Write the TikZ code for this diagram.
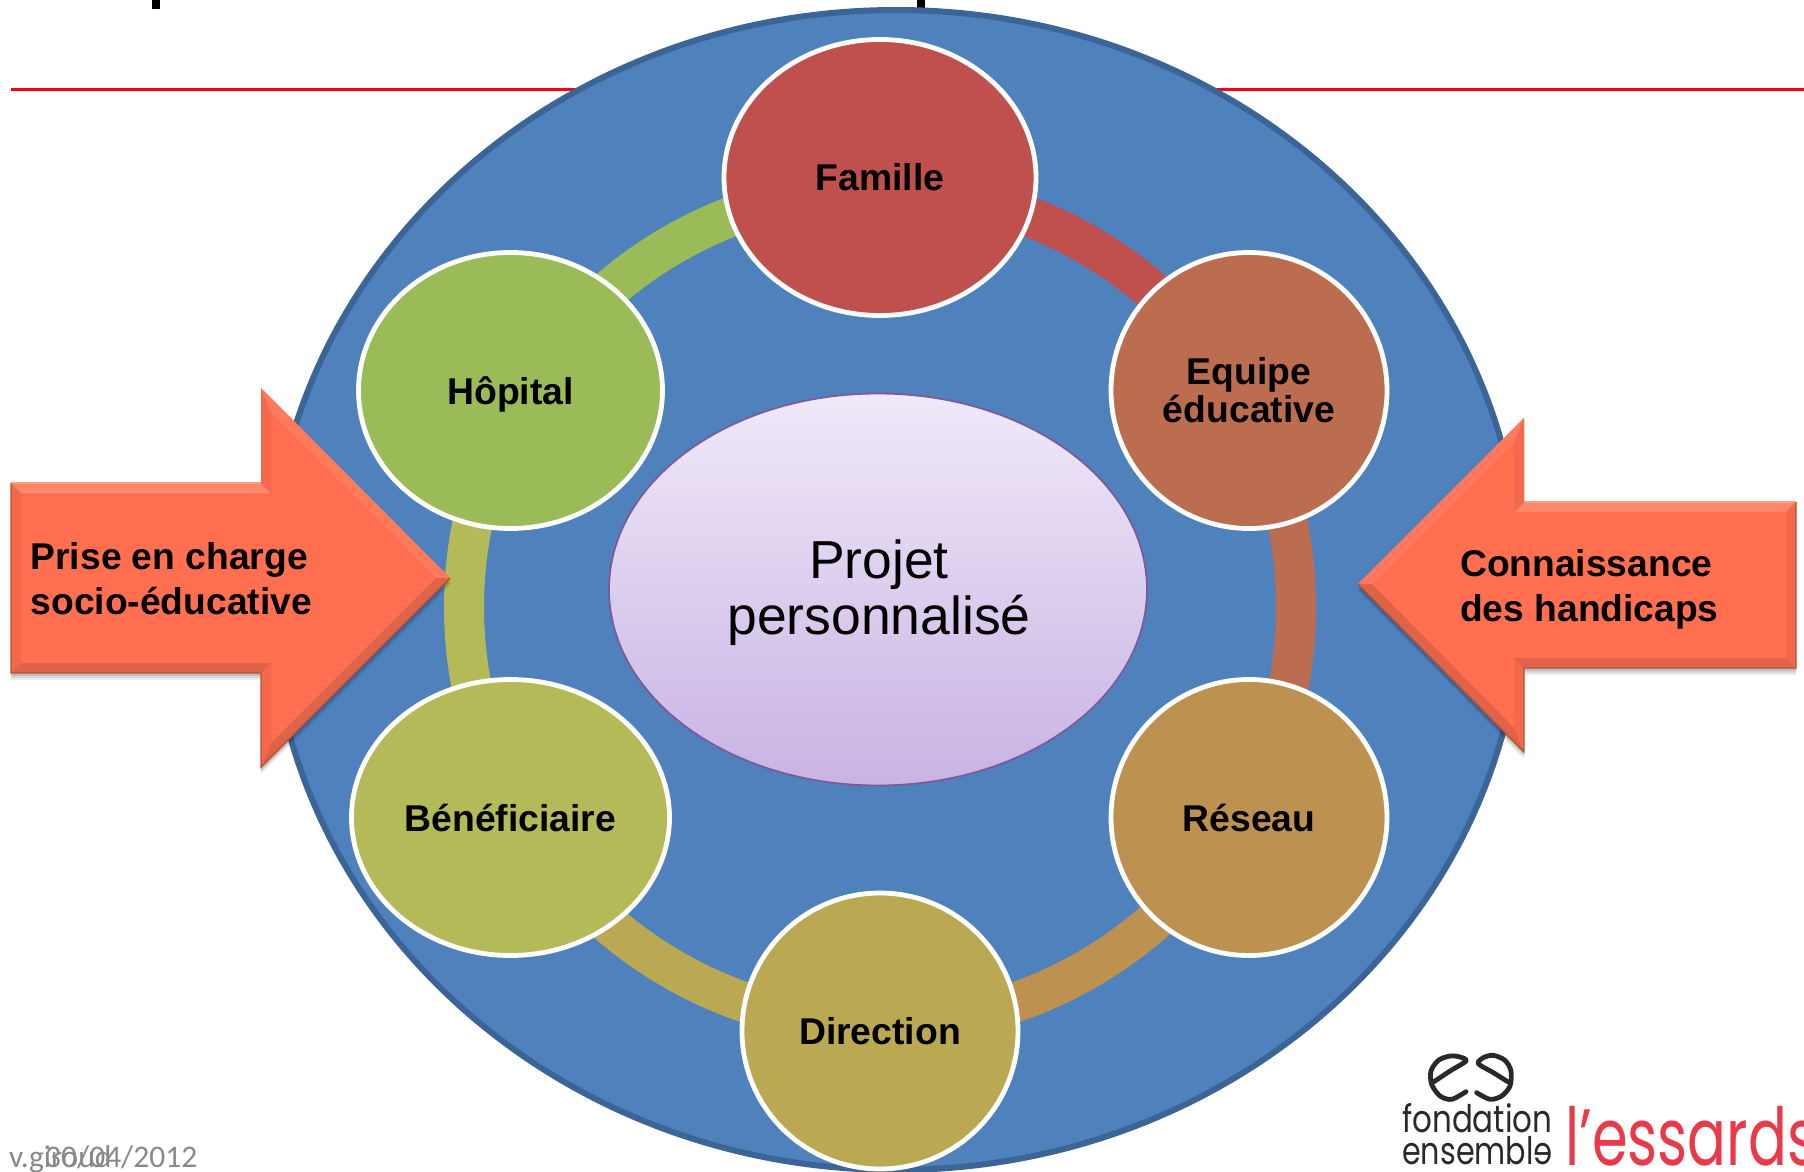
\documentclass[tikz,border=0pt]{standalone}
\usepackage{fontspec}
\setmainfont{Liberation Sans}
\newfontfamily\calfont{Carlito}
\newfontfamily\logofont{Poppins}
\usetikzlibrary{shapes.geometric,backgrounds}
\definecolor{bigfill}{HTML}{4F81BD}
\definecolor{bigline}{HTML}{3B6497}
\definecolor{cfam}{HTML}{C0504D}
\definecolor{ceq}{HTML}{BD6D4F}
\definecolor{cres}{HTML}{BD9150}
\definecolor{cdir}{HTML}{BBA852}
\definecolor{cben}{HTML}{B5BA58}
\definecolor{chop}{HTML}{9BBB59}
\definecolor{arrowbase}{HTML}{FF6F50}
\definecolor{bevlight}{HTML}{FF886C}
\definecolor{bevlightb}{HTML}{FF7A5C}
\definecolor{bevside}{HTML}{F4694B}
\definecolor{bevdark}{HTML}{E06348}
\definecolor{edgedark}{HTML}{B3533B}
\definecolor{edgelight}{HTML}{FF9D85}
\definecolor{redrule}{HTML}{FF0000}
\definecolor{logored}{HTML}{E93A4C}
\definecolor{logoblack}{HTML}{2B282A}
\definecolor{footgray}{HTML}{898989}
\definecolor{ptop}{HTML}{F0E9F9}
\definecolor{pbot}{HTML}{C8B3E3}
\definecolor{pline}{HTML}{7A5C9C}
\tikzset{
  member/.style={ellipse,draw=white,line width=4.8pt,inner sep=0pt,
    font=\fontsize{37.3}{38}\selectfont\bfseries,align=center,text=black},
  ringarc/.style={line width=40pt,line cap=butt},
  arrowtext/.style={font=\fontsize{37.2}{45}\selectfont\bfseries,align=left,anchor=west,inner sep=0pt,text=black},
  shadowpoly/.style={fill=black,draw=none},
}
\begin{document}
\begin{tikzpicture}[x=1pt,y=-1pt]
\useasboundingbox (0,0) rectangle (1804,1172);
% members
\node[member,fill=cfam,minimum width=312pt,minimum height=276pt] (fam) at (880,177.5) {Famille};
\node[member,fill=ceq,minimum width=276pt,minimum height=276pt] (equ) at (1249,390.5) {Equipe\\éducative};
\node[member,fill=cres,minimum width=276pt,minimum height=276pt] (res) at (1249,817.5) {Réseau};
\node[member,fill=cdir,minimum width=276pt,minimum height=276pt] (dir) at (880,1031) {Direction};
\node[member,fill=cben,minimum width=318pt,minimum height=276pt] (ben) at (510.5,817.5) {Bénéficiaire};
\node[member,fill=chop,minimum width=304pt,minimum height=276pt] (hop) at (510.5,390.5) {\smash{Hôpital}\rule{0pt}{27pt}};
% centre
\node[ellipse,draw=pline,line width=1.8pt,top color=ptop,bottom color=pbot,inner sep=0pt,
  minimum width=538pt,minimum height=392pt] (centre) at (878,589.5) {};
\node[font=\fontsize{53.5}{56}\selectfont,align=center,inner sep=0pt] (centretext) at (879,592.5) {Projet\\personnalisé};
\begin{scope}[on background layer]
  \fill (151.5,0) rectangle (160,9.5);
  \fill (916.5,0) rectangle (925,9);
  \coordinate (ruleAa) at (11,89.5);
  \coordinate (ruleAb) at (700,89.5);
  \coordinate (ruleBa) at (1100,89.5);
  \coordinate (ruleBb) at (1804,89.5);
  \draw[redrule,line width=3.8pt] (ruleAa) -- (ruleAb);
  \draw[redrule,line width=3.8pt] (ruleBa) -- (ruleBb);
  \node[ellipse,fill=bigfill,draw=bigline,line width=6pt,inner sep=0pt,
    minimum width=1252pt,minimum height=1160pt] (big) at (896,590) {};
  \coordinate (ringc) at (880,607);
  \draw[ringarc,cfam] (ringc) ++(90:416pt and 418pt) arc[start angle=90,end angle=29,x radius=416pt,y radius=418pt];
  \draw[ringarc,ceq] (ringc) ++(29:416pt and 418pt) arc[start angle=29,end angle=-29,x radius=416pt,y radius=418pt];
  \draw[ringarc,cres] (ringc) ++(-29:416pt and 418pt) arc[start angle=-29,end angle=-90,x radius=416pt,y radius=418pt];
  \draw[ringarc,cdir] (ringc) ++(-90:416pt and 418pt) arc[start angle=-90,end angle=-151,x radius=416pt,y radius=418pt];
  \draw[ringarc,cben] (ringc) ++(-151:416pt and 418pt) arc[start angle=-151,end angle=-209,x radius=416pt,y radius=418pt];
  \draw[ringarc,chop] (ringc) ++(151:416pt and 418pt) arc[start angle=151,end angle=90,x radius=416pt,y radius=418pt];
\end{scope}
% arrow shadows
\foreach \o/\a in {7/.07,5/.09,3/.12}{
  \fill[shadowpoly,opacity=\a] (11,483+\o) -- (261,483+\o) -- (261,388+\o) -- (450,578+\o) -- (261,767+\o) -- (261,673+\o) -- (11,673+\o) -- cycle;
  \fill[shadowpoly,opacity=\a] (1796,502+\o) -- (1524,502+\o) -- (1524,418+\o) -- (1358,584+\o) -- (1524,752+\o) -- (1524,668+\o) -- (1796,668+\o) -- cycle;
}
% left arrow
\fill[arrowbase] (11,483) -- (261,483) -- (261,388) -- (450,578) -- (261,767) -- (261,673) -- (11,673) -- cycle;
\fill[bevlight] (11,483) -- (261,483) -- (271,493) -- (21,493) -- cycle;
\fill[bevside] (261,483) -- (261,388) -- (271,412) -- (271,493) -- cycle;
\fill[bevlightb] (261,388) -- (450,578) -- (436,578) -- (271,412) -- cycle;
\fill[bevdark] (450,578) -- (261,767) -- (271,743) -- (436,578) -- cycle;
\fill[bevside] (261,767) -- (261,673) -- (271,663) -- (271,743) -- cycle;
\fill[bevdark] (261,673) -- (11,673) -- (21,663) -- (271,663) -- cycle;
\fill[bevside] (11,673) -- (11,483) -- (21,493) -- (21,663) -- cycle;
\draw[edgelight,line width=1.2pt] (11,483) -- (261,483);
\draw[edgedark,line width=1.4pt] (450,578) -- (261,767) -- (261,673) -- (11,673) -- (11,483);
% right arrow
\fill[arrowbase] (1796,502) -- (1524,502) -- (1524,418) -- (1358,584) -- (1524,752) -- (1524,668) -- (1796,668) -- cycle;
\fill[bevlight] (1796,502) -- (1524,502) -- (1514,512) -- (1786,512) -- cycle;
\fill[bevside] (1524,502) -- (1524,418) -- (1514,442) -- (1514,512) -- cycle;
\fill[bevlightb] (1524,418) -- (1358,584) -- (1372,584) -- (1514,442) -- cycle;
\fill[bevdark] (1358,584) -- (1524,752) -- (1514,728) -- (1372,584) -- cycle;
\fill[bevside] (1524,752) -- (1524,668) -- (1514,658) -- (1514,728) -- cycle;
\fill[bevdark] (1524,668) -- (1796,668) -- (1786,658) -- (1514,658) -- cycle;
\fill[bevside] (1796,668) -- (1796,502) -- (1786,512) -- (1786,658) -- cycle;
\draw[edgelight,line width=1.2pt] (1796,502) -- (1524,502);
\draw[edgedark,line width=1.4pt] (1358,584) -- (1524,752) -- (1524,668) -- (1796,668) -- (1796,502);
\node[arrowtext] (prise) at (30.5,579) {Prise en charge\\socio-éducative};
\node[arrowtext] (conn) at (1460,589.5) {Connaissance\\des handicaps};
% footer
\node[font=\fontsize{31.5}{31.5}\selectfont\calfont,text=footgray,anchor=base west,inner sep=0pt] (author) at (9,1167) {v.giroud};
\node[font=\fontsize{31.5}{31.5}\selectfont\calfont,text=footgray,anchor=base west,inner sep=0pt] (date) at (45,1167) {30/04/2012};
% logo
\begin{scope}[shift={(1350,1021)},x=.3333pt,y=-.3333pt]
  \draw[logoblack,line width=4.8pt,line cap=round,line join=round]
    plot[smooth] coordinates {(252,182) (300,150) (348,120) (330,108) (300,105) (265,118) (243,150) (245,190) (270,225) (305,235) (348,212)};
  \draw[logoblack,line width=4.8pt,line cap=round,line join=round]
    plot[smooth] coordinates {(473,182) (430,155) (385,128) (400,110) (430,103) (465,118) (483,150) (480,195) (455,225) (420,235) (380,215)};
\end{scope}
\node[font=\fontsize{38}{38}\selectfont\logofont,text=logoblack,anchor=base west,inner sep=0pt] (fond) at (1402,1132) {\scalebox{.815}[1]{fondation}};
\node[font=\fontsize{38}{38}\selectfont\logofont,text=logoblack,anchor=base west,inner sep=0pt] (ens) at (1402,1164) {\scalebox{.795}[1]{ensembl\reflectbox{e}}};
\node[font=\fontsize{80}{80}\selectfont\logofont,text=logored,anchor=base west,inner sep=0pt] (ess) at (1565,1165) {\scalebox{.72}[1]{l’essards}};
\end{tikzpicture}
\end{document}
